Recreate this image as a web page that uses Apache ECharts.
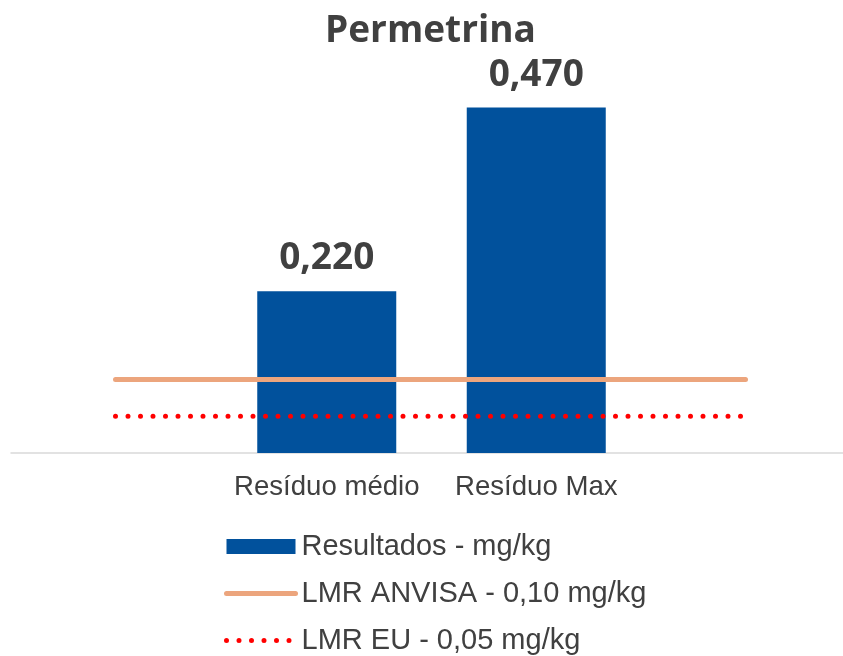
<!DOCTYPE html>
<html>
<head>
<meta charset="utf-8">
<script src="https://cdn.jsdelivr.net/npm/echarts@6/dist/echarts.min.js"></script>
<style>
  html, body { margin: 0; padding: 0; background: #ffffff; }
  #chart { width: 843px; height: 656px; }
</style>
</head>
<body>
<div id="chart"></div>
<script>
// dados do gráfico
const categories = ['Resíduo médio', 'Resíduo Max'];
const resultados = [0.220, 0.470];
const lmrAnvisa = 0.10;
const lmrEu = 0.05;
const seriesNames = ['Resultados - mg/kg', 'LMR ANVISA - 0,10 mg/kg', 'LMR EU - 0,05 mg/kg'];

const textColor = '#404040';
const yMax = 0.5;

const myChart = echarts.init(document.getElementById('chart'));

// eixo y escondido, igual nas três grades
const hiddenY = (gridIndex) => ({
  type: 'value',
  gridIndex: gridIndex,
  min: 0,
  max: yMax,
  show: false
});

myChart.setOption({
  animation: false,
  title: {
    text: 'Permetrina',
    left: 325,
    top: 13,
    padding: 0,
    textStyle: {
      fontFamily: 'Open Sans',
      fontWeight: 'bold',
      fontSize: 37,
      color: textColor
    }
  },
  legend: {
    orient: 'vertical',
    left: 224,
    top: 532,
    width: 600,
    height: 200,
    padding: 0,
    itemWidth: 69,
    itemHeight: 15,
    itemGap: 18,
    lineStyle: { width: 'inherit' },
    data: [
      { name: seriesNames[0], icon: 'rect' },
      { name: seriesNames[1], itemStyle: { opacity: 0 } },
      { name: seriesNames[2], itemStyle: { opacity: 0 } }
    ],
    textStyle: {
      fontFamily: 'Liberation Sans',
      fontSize: 29,
      color: textColor,
      padding: [0, 0, 0, 1]
    }
  },
  grid: [
    // barras
    { left: 222, right: 202, top: 85.5, bottom: 203, outerBoundsMode: 'none' },
    // linhas de LMR
    { left: 115.5, right: 97.5, top: 85.5, bottom: 203, outerBoundsMode: 'none' },
    // linha do eixo
    { left: 11, right: 0, top: 85.5, bottom: 203, outerBoundsMode: 'none' }
  ],
  xAxis: [
    {
      type: 'category',
      gridIndex: 0,
      data: categories,
      axisLine: { show: false },
      axisTick: { show: false },
      axisLabel: {
        interval: 0,
        hideOverlap: false,
        margin: 20,
        fontFamily: 'Liberation Sans',
        fontSize: 27.6,
        color: textColor
      }
    },
    {
      type: 'category',
      gridIndex: 1,
      data: categories,
      boundaryGap: false,
      show: false
    },
    {
      type: 'value',
      gridIndex: 2,
      min: 0,
      max: 1,
      axisLine: { show: true, lineStyle: { color: '#d9d9d9', width: 1.5 } },
      axisTick: { show: false },
      axisLabel: { show: false },
      splitLine: { show: false }
    }
  ],
  yAxis: [hiddenY(0), hiddenY(1), hiddenY(2)],
  series: [
    {
      name: seriesNames[0],
      type: 'bar',
      xAxisIndex: 0,
      yAxisIndex: 0,
      data: resultados,
      barWidth: 139,
      itemStyle: { color: '#01519c' },
      label: {
        show: true,
        position: 'top',
        distance: 14,
        fontFamily: 'Open Sans',
        fontWeight: 'bold',
        fontSize: 37,
        color: textColor,
        formatter: (p) => p.value.toFixed(3).replace('.', ',')
      },
      z: 2
    },
    {
      name: seriesNames[1],
      type: 'line',
      xAxisIndex: 1,
      yAxisIndex: 1,
      data: categories.map(() => lmrAnvisa),
      symbol: 'none',
      lineStyle: { color: '#eca57d', width: 5, cap: 'round' },
      itemStyle: { color: 'rgba(0,0,0,0)' },
      z: 3
    },
    {
      name: seriesNames[2],
      type: 'line',
      xAxisIndex: 1,
      yAxisIndex: 1,
      data: categories.map(() => lmrEu),
      symbol: 'none',
      lineStyle: { color: '#ff0000', width: 5, type: [0, 12.5], cap: 'round' },
      itemStyle: { color: 'rgba(0,0,0,0)' },
      z: 3
    }
  ]
});
</script>
</body>
</html>
